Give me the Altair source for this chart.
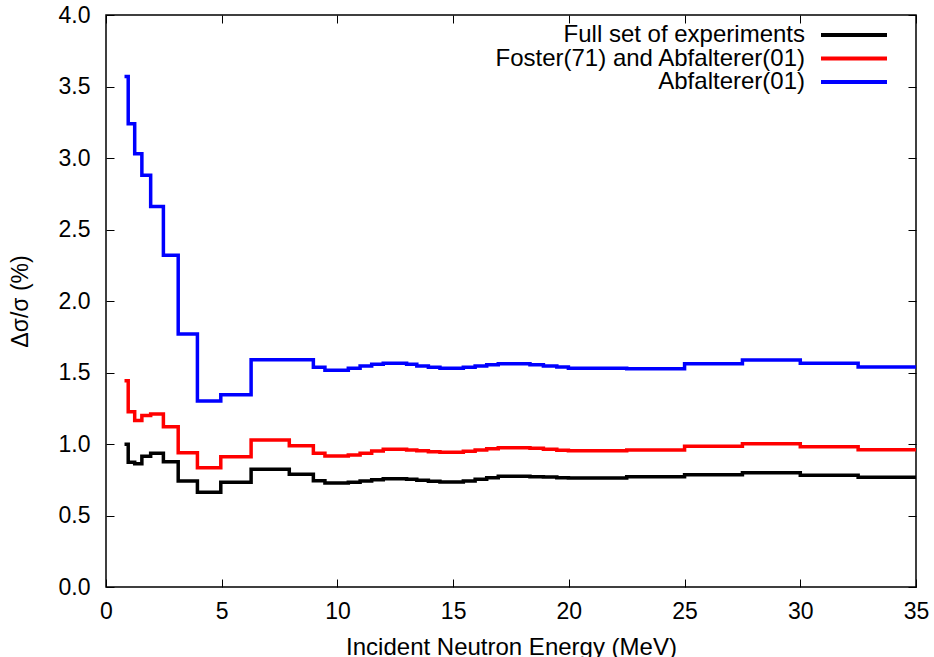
import altair as alt
import pandas as pd

series_names = ["Full set of experiments", "Foster(71) and Abfalterer(01)", "Abfalterer(01)"]
series_colors = ["#000000", "#ff0000", "#0000ff"]

# bin edges (MeV) of the step histograms
bin_edges = [0.8, 0.96, 1.24, 1.55, 1.93, 2.48, 3.12, 3.95, 4.96, 6.27, 7.92, 8.96,
             9.46, 10.47, 10.98, 11.48, 11.98, 12.99, 13.43, 13.93, 14.43, 15.44,
             15.95, 16.45, 16.95, 18.32, 18.9, 19.48, 19.98, 22.5, 25.0, 27.5, 30.0,
             32.5, 35.0]

full_vals = [0.998, 0.872, 0.862, 0.915, 0.935, 0.876, 0.741, 0.662, 0.732, 0.823, 0.788,
             0.743, 0.727, 0.732, 0.741, 0.750, 0.757, 0.753, 0.746, 0.739, 0.734, 0.741,
             0.753, 0.764, 0.774, 0.771, 0.769, 0.764, 0.762,
             0.771, 0.785, 0.799, 0.781, 0.767]
foster_vals = [1.443, 1.226, 1.165, 1.200, 1.210, 1.121, 0.939, 0.834, 0.911, 1.028, 0.988,
               0.935, 0.916, 0.923, 0.935, 0.951, 0.963, 0.958, 0.953, 0.946, 0.942, 0.949,
               0.958, 0.967, 0.974, 0.970, 0.963, 0.956, 0.953,
               0.958, 0.984, 1.002, 0.981, 0.960]
abf_vals = [3.57, 3.24, 3.03, 2.88, 2.66, 2.32, 1.77, 1.30, 1.345, 1.59, 1.59,
            1.536, 1.515, 1.529, 1.545, 1.557, 1.564, 1.557, 1.545, 1.536, 1.529, 1.536,
            1.545, 1.555, 1.562, 1.555, 1.545, 1.538, 1.529,
            1.527, 1.562, 1.587, 1.564, 1.538]

x_ticks = [0, 5, 10, 15, 20, 25, 30, 35]
y_ticks = [0.0, 0.5, 1.0, 1.5, 2.0, 2.5, 3.0, 3.5, 4.0]

rows = []
for name, vals in zip(series_names, [full_vals, foster_vals, abf_vals]):
    for e, v in zip(bin_edges[:-1], vals):
        rows.append({"series": name, "E": e, "err": v})
    rows.append({"series": name, "E": bin_edges[-1], "err": vals[-1]})
df = pd.DataFrame(rows)

W, H = 810, 572
FONT = "Liberation Sans"

color = alt.Color("series:N", scale=alt.Scale(domain=series_names, range=series_colors), legend=None)

lines = alt.Chart(df).mark_line(interpolate="step-after", strokeWidth=3.5).encode(
    x=alt.X("E:Q", scale=alt.Scale(domain=[0, 35], nice=False, zero=False),
            axis=alt.Axis(values=x_ticks, format="d", title="Incident Neutron Energy (MeV)",
                          titleFontSize=24, titleFontWeight="normal", titleColor="black",
                          titleY=67, titleBaseline="alphabetic",
                          labelFontSize=23, labelColor="black", labelPadding=13,
                          labelFlush=False, labelOverlap=False,
                          ticks=False, domain=False, grid=True, gridColor="black",
                          gridWidth=1, gridOpacity=1, gridDash=[8, H - 16, 8, 1000])),
    y=alt.Y("err:Q", scale=alt.Scale(domain=[0, 4], nice=False),
            axis=alt.Axis(values=y_ticks, format=".1f", title="Δσ/σ (%)",
                          titleFontSize=23, titleFontWeight="normal", titleColor="black",
                          titleX=-86, titleY=H / 2, titleAngle=270, titleBaseline="middle",
                          titleAlign="center",
                          labelFontSize=23, labelColor="black", labelPadding=16,
                          labelFlush=False, labelOverlap=False,
                          ticks=False, domain=False, grid=True, gridColor="black",
                          gridWidth=1, gridOpacity=1, gridDash=[8, W - 16, 8, 1000])),
    color=color,
    order=alt.Order("E:Q"),
)

leg_df = pd.DataFrame({"series": series_names})
leg_y = alt.Y("series:N", scale=alt.Scale(type="point", domain=series_names, range=[20, 67], padding=0),
              axis=None)

leg_rule = alt.Chart(leg_df).mark_rule(strokeWidth=4).encode(
    x=alt.value(715), x2=alt.value(781), y=leg_y, color=color)
leg_text = alt.Chart(leg_df).mark_text(align="right", baseline="middle", fontSize=24,
                                       font=FONT, color="black").encode(
    x=alt.value(699), y=leg_y, text="series:N")

chart = alt.layer(lines, leg_rule, leg_text).resolve_scale(y="independent").properties(
    width=W, height=H,
    autosize=alt.AutoSizeParams(type="none"),
    padding={"left": 106, "top": 15, "right": 18, "bottom": 70},
    background="white",
).configure(font=FONT).configure_view(stroke="black", strokeWidth=1.5)

chart.save("out.html", embed_options={"renderer": "svg", "actions": False})
